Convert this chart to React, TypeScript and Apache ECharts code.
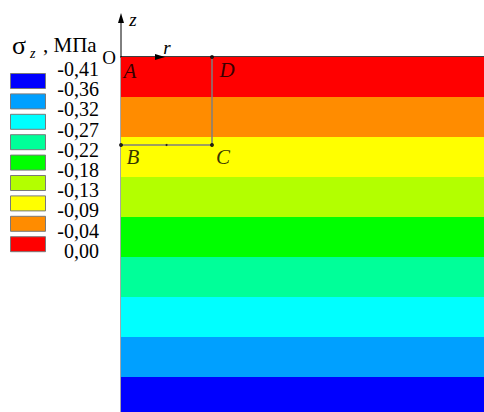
import React, { useEffect, useRef } from "react";
import * as echarts from "echarts";

// Legend levels (MPa), top to bottom
const stressLevels = ["-0,41", "-0,36", "-0,32", "-0,27", "-0,22", "-0,18", "-0,13", "-0,09", "-0,04", "0,00"];
// Legend colours, top (most negative) to bottom (zero)
const levelColors = ["#0000ff", "#00a0ff", "#00ffff", "#00ff99", "#00ff00", "#b3ff00", "#ffff00", "#ff8c00", "#ff0000"];
// Horizontal stress bands in depth units: top z, bottom z, colour index
const bandTop = [0, -1, -2, -3, -4, -5, -6, -7, -8];
const bandBottom = [-1, -2, -3, -4, -5, -6, -7, -8, -9];
const bandLevel = [8, 7, 6, 5, 4, 3, 2, 1, 0];
// Domain ABCD corners
const pointNames = ["A", "D", "B", "C", ""];
const pointR = [0, 2.275, 0, 2.275, 1.1375];
const pointZ = [0, 0, -2.2, -2.2, -2.2];

const R_MAX = 9.075;
const Z_MIN = -8.875;
const SERIF = "'Liberation Serif', 'Times New Roman', serif";

export default function App() {
  const ref = useRef<HTMLDivElement>(null);
  useEffect(() => {
    if (!ref.current) return;
    const chart = echarts.init(ref.current, undefined, { renderer: "svg" });

    const bandData = bandTop.map((t, i) => [t, Math.max(bandBottom[i], Z_MIN), bandLevel[i]]);
    const labelOffsets: Record<string, number[]> = {
      A: [9, 14],
      D: [15, 13],
      B: [12, 12],
      C: [11, 12],
      "": [0, 0],
    };
    const pts = pointNames.map((n, i) => ({
      name: n,
      value: [pointR[i], pointZ[i]],
      symbolSize: n === "A" ? 0 : n === "" ? 2 : 4,
      label: { show: n !== "", offset: labelOffsets[n] },
    }));

    const legendItems: any[] = [];
    levelColors.forEach((c, i) => {
      legendItems.push({
        type: "rect",
        z: 10,
        shape: { x: 10.5, y: 73.5 + i * 20.4, width: 35, height: 15 },
        style: { fill: c, stroke: "#7a7a7a", lineWidth: 1 },
      });
    });
    stressLevels.forEach((s, i) => {
      legendItems.push({
        type: "text",
        z: 10,
        x: 99,
        y: 69 + i * 20.2,
        style: {
          text: s,
          fill: "#000",
          font: `20px ${SERIF}`,
          align: "right",
          verticalAlign: "middle",
        },
      });
    });

    chart.setOption({
      animation: false,
      backgroundColor: "#fff",
      grid: { left: 121, top: 57, right: 0, bottom: 0 },
      xAxis: {
        type: "value",
        min: 0,
        max: R_MAX,
        position: "top",
        axisLine: { show: true, lineStyle: { color: "#000", width: 1.5 } },
        axisTick: { show: false },
        axisLabel: { show: false },
        splitLine: { show: false },
      },
      yAxis: {
        type: "value",
        min: Z_MIN,
        max: 0,
        axisLine: { show: true, lineStyle: { color: "#888", width: 1.5 } },
        axisTick: { show: false },
        axisLabel: { show: false },
        splitLine: { show: false },
      },
      series: [
        {
          type: "custom",
          z: 1,
          data: bandData,
          renderItem: (params: any, api: any) => {
            const p1 = api.coord([0, api.value(0)]);
            const p2 = api.coord([R_MAX, api.value(1)]);
            return {
              type: "rect",
              shape: { x: p1[0], y: p1[1], width: p2[0] - p1[0], height: p2[1] - p1[1] },
              style: { fill: levelColors[api.value(2)], stroke: null },
            };
          },
        },
        {
          type: "line",
          z: 3,
          data: [
            [pointR[2], pointZ[2]],
            [pointR[3], pointZ[3]],
            [pointR[1], pointZ[1]],
          ],
          symbol: "none",
          lineStyle: { color: "#7f7f7f", width: 1.5 },
        },
        {
          type: "scatter",
          z: 4,
          data: pts,
          itemStyle: { color: "#000" },
          label: {
            formatter: "{b}",
            color: "#000",
            fontFamily: SERIF,
            fontStyle: "italic",
            fontSize: 21,
            position: "inside",
          },
        },
      ],
      graphic: [
        // z axis above plot
        { type: "line", z: 10, shape: { x1: 121, y1: 57, x2: 121, y2: 20 }, style: { stroke: "#000", lineWidth: 1 } },
        { type: "polygon", z: 10, shape: { points: [[121, 13], [118, 23], [124, 23]] }, style: { fill: "#000" } },
        // r arrow head
        { type: "polygon", z: 10, shape: { points: [[165, 57], [155, 54], [155, 60]] }, style: { fill: "#000" } },
        { type: "text", z: 10, x: 133, y: 19, style: { text: "z", font: `italic 19px ${SERIF}`, fill: "#000", align: "center", verticalAlign: "middle" } },
        { type: "text", z: 10, x: 167, y: 47, style: { text: "r", font: `italic 19px ${SERIF}`, fill: "#000", align: "center", verticalAlign: "middle" } },
        { type: "text", z: 10, x: 109, y: 57, style: { text: "O", font: `19px ${SERIF}`, fill: "#000", align: "center", verticalAlign: "middle" } },
        // legend title
        { type: "text", z: 10, x: 12, y: 45, style: { text: "σ", font: `26px ${SERIF}`, fill: "#000", align: "left", verticalAlign: "middle" } },
        { type: "text", z: 10, x: 30, y: 53, style: { text: "z", font: `italic 14px ${SERIF}`, fill: "#000", align: "left", verticalAlign: "middle" } },
        { type: "text", z: 10, x: 43, y: 45, style: { text: ", МПа", font: `21px ${SERIF}`, fill: "#000", align: "left", verticalAlign: "middle" } },
        ...legendItems,
      ],
    });
    return () => chart.dispose();
  }, []);
  return (
    <div
      ref={ref}
      style={{ position: "fixed", left: 0, top: 0, width: 484, height: 412 }}
    />
  );
}
